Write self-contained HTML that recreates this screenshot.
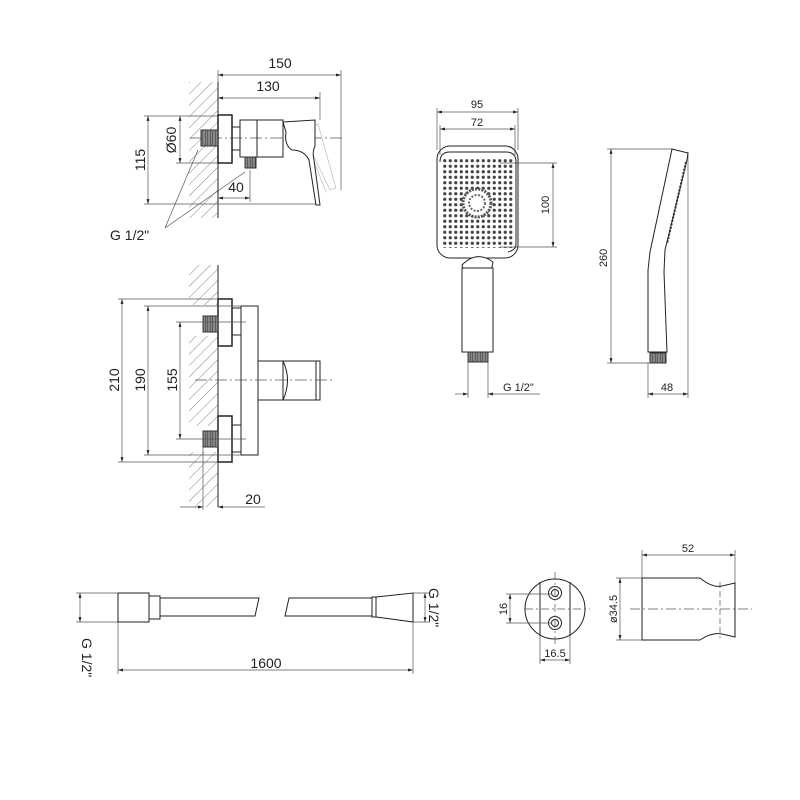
<!DOCTYPE html>
<html><head><meta charset="utf-8"><style>
html,body{margin:0;padding:0;background:#fff;width:800px;height:800px;overflow:hidden}
svg{display:block}
text{font-family:"Liberation Sans",Arial,sans-serif;fill:#222}
</style></head><body>
<svg width="800" height="800" viewBox="0 0 800 800" xmlns="http://www.w3.org/2000/svg">
<defs>
<pattern id="hatch" width="8" height="8" patternUnits="userSpaceOnUse" patternTransform="rotate(45)">
<line x1="0" y1="0" x2="0" y2="8" stroke="#777" stroke-width="0.9"/></pattern>
<pattern id="thr" width="2.5" height="3" patternUnits="userSpaceOnUse">
<rect width="2.5" height="3" fill="#888"/><line x1="0" y1="0" x2="0" y2="3" stroke="#333" stroke-width="1"/></pattern>
<pattern id="dots" width="5.5" height="5.5" patternUnits="userSpaceOnUse" x="442" y="158">
<circle cx="2.75" cy="2.75" r="1.6" fill="#444"/></pattern>
<marker id="a" viewBox="0 0 10 10" refX="10" refY="5" markerWidth="7" markerHeight="7" orient="auto-start-reverse"><path d="M0,2 L10,5 L0,8z" fill="#222"/></marker>
</defs>
<g fill="none" stroke="#222" stroke-width="1">

<!-- ===== TOP VIEW ===== -->
<rect x="189" y="82" width="29" height="136" fill="url(#hatch)" stroke="none"/>
<line x1="218" y1="82" x2="218" y2="218"/>
<g stroke="#555" stroke-width="0.7">
<line x1="218" y1="70" x2="218" y2="82"/><line x1="341" y1="70" x2="341" y2="190"/>
<line x1="320" y1="92" x2="320" y2="120"/>
<line x1="218" y1="75" x2="341" y2="75" marker-start="url(#a)" marker-end="url(#a)"/>
<line x1="218" y1="98" x2="320" y2="98" marker-start="url(#a)" marker-end="url(#a)"/>
<line x1="144" y1="116" x2="218" y2="116"/><line x1="144" y1="204" x2="320" y2="204"/>
<line x1="148" y1="116" x2="148" y2="204" marker-start="url(#a)" marker-end="url(#a)"/>
<line x1="176" y1="163" x2="218" y2="163"/>
<line x1="180" y1="116" x2="180" y2="163" marker-start="url(#a)" marker-end="url(#a)"/>
<line x1="250" y1="170" x2="250" y2="202"/>
<line x1="218" y1="198" x2="250" y2="198" marker-start="url(#a)" marker-end="url(#a)"/>
<polyline points="165,228 198,150"/><polyline points="165,228 245,172"/>
<line x1="190" y1="138" x2="345" y2="138" stroke-dasharray="12,3,2,3"/>
<path d="M302,132 L318,124 L336,188 L330,190 Z M308,146 L326,192" stroke="#bbb"/>
</g>
<rect x="218" y="115" width="14" height="48" stroke-width="1.5"/>
<rect x="201" y="130" width="17" height="16" fill="url(#thr)" stroke="#333"/>
<rect x="232" y="127" width="8" height="23"/>
<rect x="240" y="120" width="17" height="37"/>
<rect x="257" y="120" width="26" height="37"/>
<rect x="245" y="157" width="11" height="11" fill="url(#thr)" stroke="#333"/>
<path d="M283,122 L315,120 L315,146 Q312,152 314,160 L320,205 L316,205 L309,160 Q304,150 292,150 Q284,145 286,132 Z" fill="#fff"/>

<!-- ===== MIDDLE VIEW ===== -->
<rect x="189" y="265" width="29" height="40" fill="url(#hatch)" stroke="none"/>
<rect x="189" y="336" width="29" height="90" fill="url(#hatch)" stroke="none"/>
<rect x="189" y="452" width="29" height="55" fill="url(#hatch)" stroke="none"/>
<line x1="218" y1="265" x2="218" y2="507"/>
<rect x="218" y="299" width="14" height="47" stroke-width="1.5"/>
<rect x="218" y="416" width="14" height="46" stroke-width="1.5"/>
<rect x="232" y="308" width="9" height="27"/><rect x="232" y="425" width="9" height="27"/>
<rect x="203" y="316" width="15" height="16" fill="url(#thr)" stroke="#333"/>
<rect x="203" y="431" width="15" height="16" fill="url(#thr)" stroke="#333"/>
<rect x="241" y="306" width="17" height="149"/>
<rect x="258" y="361" width="62" height="39"/>
<path d="M283,361 Q292,380 283,400 M283,361 L283,400 M316,361 L316,400"/>
<g stroke="#555" stroke-width="0.7">
<line x1="195" y1="380" x2="335" y2="380" stroke-dasharray="12,3,2,3"/>
<line x1="176" y1="322" x2="246" y2="322"/><line x1="176" y1="439" x2="246" y2="439"/>
<line x1="118" y1="299" x2="218" y2="299"/><line x1="118" y1="462" x2="218" y2="462"/>
<line x1="144" y1="306" x2="241" y2="306"/><line x1="144" y1="455" x2="241" y2="455"/>
<line x1="122" y1="299" x2="122" y2="462" marker-start="url(#a)" marker-end="url(#a)"/>
<line x1="148" y1="306" x2="148" y2="455" marker-start="url(#a)" marker-end="url(#a)"/>
<line x1="180" y1="322" x2="180" y2="439" marker-start="url(#a)" marker-end="url(#a)"/>
<line x1="203" y1="447" x2="203" y2="510"/>
<line x1="180" y1="507" x2="203" y2="507" marker-end="url(#a)"/>
<line x1="265" y1="507" x2="218" y2="507" marker-end="url(#a)"/>
</g>

<!-- ===== HAND SHOWER FRONT ===== -->
<g stroke="#555" stroke-width="0.7">
<line x1="437" y1="108" x2="437" y2="150"/><line x1="518" y1="108" x2="518" y2="150"/>
<line x1="440" y1="125" x2="440" y2="155"/><line x1="515" y1="125" x2="515" y2="155"/>
<line x1="437" y1="112" x2="518" y2="112" marker-start="url(#a)" marker-end="url(#a)"/>
<line x1="440" y1="129" x2="515" y2="129" marker-start="url(#a)" marker-end="url(#a)"/>
<line x1="500" y1="163" x2="557" y2="163"/><line x1="500" y1="247" x2="557" y2="247"/>
<line x1="553" y1="163" x2="553" y2="247" marker-start="url(#a)" marker-end="url(#a)"/>
<line x1="468" y1="362" x2="468" y2="398"/><line x1="488" y1="362" x2="488" y2="398"/>
<line x1="455" y1="394" x2="468" y2="394" marker-end="url(#a)"/>
<line x1="540" y1="394" x2="488" y2="394" marker-end="url(#a)"/>
</g>
<rect x="437" y="146" width="81" height="112" rx="13"/>
<path d="M440,162 Q440,152 450,152 L506,152 Q516,152 516,162 L516,244 Q516,250 508,252"/>
<rect x="442" y="158" width="72" height="90" fill="url(#dots)" stroke="none"/>
<circle cx="477" cy="203" r="14" fill="#fff" stroke="#555" stroke-width="3" stroke-dasharray="2,1.2"/>
<circle cx="477" cy="203" r="8" fill="#fff" stroke="#666" stroke-width="2" stroke-dasharray="2,1.5"/>
<path d="M462,265 Q477,250 493,262 L491,272 Q477,280 464,272 Z" fill="#fff"/>
<rect x="462" y="268" width="31" height="84" fill="#fff"/>
<rect x="468" y="352" width="20" height="10" fill="url(#thr)" stroke="#333"/>

<!-- ===== HAND SHOWER SIDE ===== -->
<g stroke="#555" stroke-width="0.7">
<line x1="607" y1="149" x2="672" y2="149"/><line x1="607" y1="363" x2="650" y2="363"/>
<line x1="611" y1="149" x2="611" y2="363" marker-start="url(#a)" marker-end="url(#a)"/>
<line x1="648" y1="363" x2="648" y2="398"/><line x1="688" y1="152" x2="688" y2="398"/>
<line x1="648" y1="394" x2="688" y2="394" marker-start="url(#a)" marker-end="url(#a)"/>
</g>
<path d="M672,149 L688,153 L687,160 L665,250 L664,272 L667,352 L648,352 L648,270 L650,252 Z"/>
<path d="M686,162 L667,244" stroke="#333" stroke-width="2" stroke-dasharray="2,1.5"/>
<rect x="650" y="353" width="16" height="10" fill="url(#thr)" stroke="#333"/>

<!-- ===== HOSE ===== -->
<g stroke="#555" stroke-width="0.7">
<line x1="76" y1="593" x2="118" y2="593"/><line x1="76" y1="622" x2="118" y2="622"/>
<line x1="80" y1="593" x2="80" y2="622" marker-start="url(#a)" marker-end="url(#a)"/>
<line x1="413" y1="593" x2="430" y2="593"/><line x1="413" y1="622" x2="430" y2="622"/>
<line x1="425" y1="593" x2="425" y2="622" marker-start="url(#a)" marker-end="url(#a)"/>
<line x1="118" y1="622" x2="118" y2="674"/><line x1="413" y1="622" x2="413" y2="674"/>
<line x1="118" y1="670" x2="413" y2="670" marker-start="url(#a)" marker-end="url(#a)"/>
</g>
<rect x="118" y="593" width="31" height="29"/>
<rect x="149" y="596" width="11" height="23"/>
<path d="M160,598 L259,598 L255,616 L160,616"/>
<path d="M289,598 L372,598 L372,616 L285,616 Z"/>
<rect x="372" y="597" width="4" height="20"/>
<path d="M376,597 L413,593 L413,622 L376,617"/>

<!-- ===== HOLDER ===== -->
<circle cx="555" cy="609" r="30"/>
<line x1="540" y1="582" x2="540" y2="636"/><line x1="570" y1="582" x2="570" y2="636"/>
<circle cx="555" cy="593" r="6.5"/><circle cx="555" cy="593" r="3.5"/>
<circle cx="555" cy="623" r="6.5"/><circle cx="555" cy="623" r="3.5"/>
<g stroke="#555" stroke-width="0.7">
<line x1="525" y1="609" x2="590" y2="609" stroke-dasharray="8,3,2,3"/>
<line x1="555" y1="572" x2="555" y2="645" stroke-dasharray="8,3,2,3"/>
<line x1="506" y1="594" x2="552" y2="594"/><line x1="506" y1="623" x2="552" y2="623"/>
<line x1="510" y1="594" x2="510" y2="623" marker-start="url(#a)" marker-end="url(#a)"/>
<line x1="540" y1="636" x2="540" y2="664"/><line x1="570" y1="636" x2="570" y2="664"/>
<line x1="540" y1="660" x2="570" y2="660" marker-start="url(#a)" marker-end="url(#a)"/>
<line x1="642" y1="550" x2="642" y2="578"/><line x1="735" y1="550" x2="735" y2="583"/>
<line x1="642" y1="555" x2="735" y2="555" marker-start="url(#a)" marker-end="url(#a)"/>
<line x1="616" y1="578" x2="642" y2="578"/><line x1="616" y1="640" x2="642" y2="640"/>
<line x1="620" y1="578" x2="620" y2="640" marker-start="url(#a)" marker-end="url(#a)"/>
<line x1="630" y1="609" x2="752" y2="609" stroke-dasharray="10,3,2,3"/>
<line x1="720" y1="582" x2="720" y2="638" stroke-dasharray="6,3"/>
</g>
<path d="M642,578 L700,578 Q712,588 722,586 L735,583 L735,637 L722,634 Q712,632 700,640 L642,640 Z"/>
</g>

<!-- TEXT -->
<g font-size="14">
<text x="280" y="68" text-anchor="middle">150</text>
<text x="268" y="91" text-anchor="middle">130</text>
<text x="236" y="192" text-anchor="middle">40</text>
<text x="110" y="240">G 1/2"</text>
<text transform="translate(145,160) rotate(-90)" text-anchor="middle">115</text>
<text transform="translate(176,140) rotate(-90)" text-anchor="middle">Ø60</text>
<text transform="translate(119,380) rotate(-90)" text-anchor="middle">210</text>
<text transform="translate(145,380) rotate(-90)" text-anchor="middle">190</text>
<text transform="translate(177,380) rotate(-90)" text-anchor="middle">155</text>
<text x="253" y="504" text-anchor="middle">20</text>
<text x="266" y="668" text-anchor="middle">1600</text>
<text transform="translate(82,638) rotate(90)">G 1/2"</text>
<text transform="translate(429,588) rotate(90)">G 1/2"</text>
</g>
<g font-size="11">
<text x="477" y="108" text-anchor="middle">95</text>
<text x="477" y="126" text-anchor="middle">72</text>
<text transform="translate(549,205) rotate(-90)" text-anchor="middle">100</text>
<text transform="translate(607,258) rotate(-90)" text-anchor="middle">260</text>
<text x="503" y="391">G 1/2"</text>
<text x="667" y="391" text-anchor="middle">48</text>
<text x="688" y="552" text-anchor="middle">52</text>
<text x="555" y="657" text-anchor="middle">16.5</text>
<text transform="translate(507,609) rotate(-90)" text-anchor="middle">16</text>
<text transform="translate(617,609) rotate(-90)" text-anchor="middle">ø34.5</text>
</g>
</svg>
</body></html>
